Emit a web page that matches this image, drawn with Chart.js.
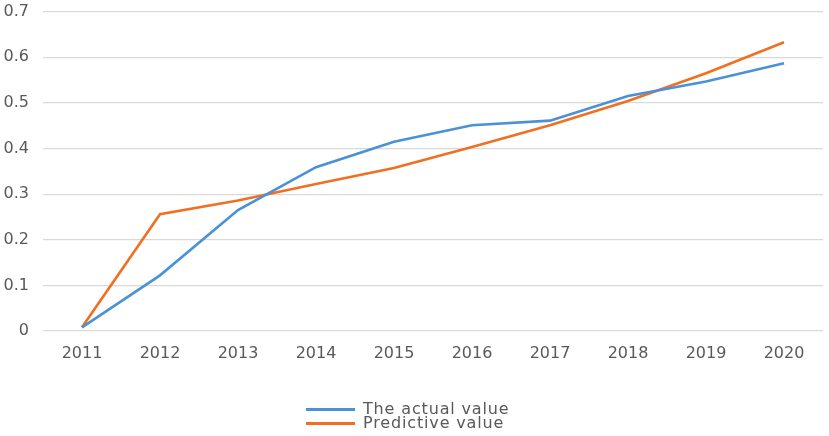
<!DOCTYPE html>
<html>
<head>
<meta charset="utf-8">
<script src="https://cdn.jsdelivr.net/npm/chart.js@4.4.0/dist/chart.umd.min.js"></script>
<style>
  html,body{margin:0;padding:0;background:#fff;overflow:hidden;}
  #wrap{position:relative;width:829px;height:436px;overflow:hidden;}
  #c{position:absolute;left:0;top:-12px;}
  #legend{position:absolute;left:306px;top:402px;font-family:"DejaVu Sans",sans-serif;font-size:16px;letter-spacing:0.85px;color:#595959;line-height:14px;}
  .item{display:flex;align-items:center;height:14px;}
  .sw{width:49px;height:3px;margin-right:8px;}
</style>
</head>
<body>
<div id="wrap">
  <canvas id="c" width="829" height="448"></canvas>
  <div id="legend"></div>
</div>
<script>
const categories = ["2011","2012","2013","2014","2015","2016","2017","2018","2019","2020"];
const actualValues = [0.008,0.122,0.265,0.359,0.415,0.451,0.461,0.515,0.547,0.587];
const predictiveValues = [0.008,0.256,0.286,0.322,0.357,0.403,0.451,0.504,0.565,0.633];
const seriesLabels = ["The actual value","Predictive value"];
const seriesColors = ["#4A91D8","#F07021"];
const yTicks = [0,0.1,0.2,0.3,0.4,0.5,0.6,0.7];

const ctx = document.getElementById('c');
const chart = new Chart(ctx, {
  type: 'line',
  data: {
    labels: categories,
    datasets: [
      {label: seriesLabels[0], data: actualValues, borderColor: seriesColors[0], backgroundColor: seriesColors[0], borderWidth: 2.6, pointRadius: 0, tension: 0},
      {label: seriesLabels[1], data: predictiveValues, borderColor: seriesColors[1], backgroundColor: seriesColors[1], borderWidth: 2.6, pointRadius: 0, tension: 0}
    ]
  },
  options: {
    responsive: false,
    animation: false,
    layout: {padding: {top: 0, right: 6, left: 0, bottom: 0}},
    plugins: {legend: {display: false}, tooltip: {enabled: false}},
    scales: {
      x: {
        offset: true,
        grid: {display: false, drawTicks: false},
        border: {display: false},
        ticks: {color: '#595959', font: {family: 'DejaVu Sans', size: 16}, padding: 13, maxRotation: 0},
        afterFit: s => { s.height = 105; }
      },
      y: {
        min: 0, max: 0.7,
        afterBuildTicks: s => { s.ticks = yTicks.map(v => ({value: v})); },
        grid: {color: '#D9D9D9', lineWidth: 1.2, drawTicks: false},
        border: {display: false},
        ticks: {color: '#595959', font: {family: 'DejaVu Sans', size: 16}, padding: 14,
          callback: v => String(Math.round(v*10)/10)},
        afterFit: s => { s.width = 43; }
      }
    }
  }
});

const leg = document.getElementById('legend');
seriesLabels.forEach((t,i) => {
  const d = document.createElement('div'); d.className = 'item';
  const sw = document.createElement('span'); sw.className = 'sw'; sw.style.background = seriesColors[i];
  const tx = document.createElement('span'); tx.textContent = t;
  d.appendChild(sw); d.appendChild(tx); leg.appendChild(d);
});
</script>
</body>
</html>
